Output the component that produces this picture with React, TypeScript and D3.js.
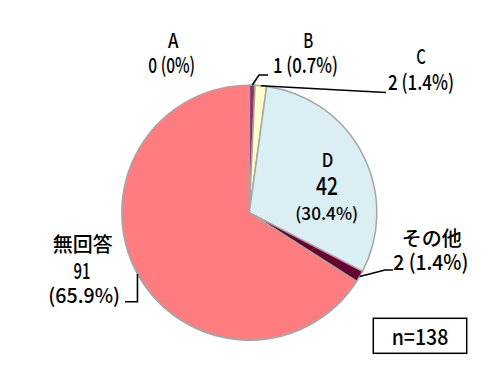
import React from 'react';
import * as d3 from 'd3';

const categories = ['A', 'B', 'C', 'D', 'その他', '無回答'];
const counts = [0, 1, 2, 42, 2, 91];
const percentLabels = ['0%', '0.7%', '1.4%', '30.4%', '1.4%', '65.9%'];
const sliceColors = ['#7F7F7F', '#993366', '#FFFFCC', '#DAEEF3', '#660033', '#FF7C80'];
const sampleLabel = 'n=138';

const W = 494;
const H = 386;
const cx = 249.3;
const cy = 212.7;
const R = 127.5;
const FONT = "'Noto Sans CJK JP', 'Noto Sans', sans-serif";

type T = { x: number; y: number; fs: number; w?: number };
type Layout = { lines: { text: (i: number) => string; t: T }[]; leader?: [number, number][] | 'vert' };

const layouts: Layout[] = [
  { lines: [
    { text: i => categories[i], t: { x: 173.3, y: 48.3, fs: 20, w: 10.5 } },
    { text: i => `${counts[i]} (${percentLabels[i]})`, t: { x: 171.7, y: 73, fs: 21, w: 46.7 } },
  ] },
  { lines: [
    { text: i => categories[i], t: { x: 308.3, y: 48.3, fs: 20, w: 10 } },
    { text: i => `${counts[i]} (${percentLabels[i]})`, t: { x: 305.5, y: 73, fs: 21, w: 65 } },
  ], leader: [[259, 75], [268, 75]] },
  { lines: [
    { text: i => categories[i], t: { x: 421, y: 64, fs: 20, w: 9.5 } },
    { text: i => `${counts[i]} (${percentLabels[i]})`, t: { x: 421, y: 89.5, fs: 21, w: 66 } },
  ], leader: [[386, 92.5]] },
  { lines: [
    { text: i => categories[i], t: { x: 327.5, y: 167, fs: 19, w: 11.6 } },
    { text: i => `${counts[i]}`, t: { x: 327, y: 195, fs: 25, w: 22 } },
    { text: i => `(${percentLabels[i]})`, t: { x: 326.7, y: 220, fs: 17, w: 63 } },
  ] },
  { lines: [
    { text: i => categories[i], t: { x: 431.7, y: 245.6, fs: 20 } },
    { text: i => `${counts[i]} (${percentLabels[i]})`, t: { x: 430.8, y: 269.5, fs: 21, w: 75 } },
  ], leader: [[385, 270], [393, 270]] },
  { lines: [
    { text: i => categories[i], t: { x: 82.7, y: 252, fs: 20 } },
    { text: i => `${counts[i]}`, t: { x: 82, y: 278.5, fs: 22, w: 17 } },
    { text: i => `(${percentLabels[i]})`, t: { x: 84.2, y: 302.5, fs: 20, w: 71.7 } },
  ], leader: 'vert' },
];

export default function App() {
  const pie = d3.pie<number>().sort(null).value(d => d);
  const arcs = pie(counts);
  const arcGen = d3.arc<d3.PieArcDatum<number>>().innerRadius(0).outerRadius(R);
  const edge = d3.arc<d3.PieArcDatum<number>>().innerRadius(R).outerRadius(R);

  return (
    <svg width={W} height={H} style={{ position: 'absolute', left: 0, top: 0, background: '#fff' }}>
      <g transform={`translate(${cx},${cy})`}>
        {arcs.map((a, i) => (
          <path key={i} d={arcGen(a) || ''} fill={sliceColors[i]} stroke="#A6A6A6" strokeWidth={1.5} strokeLinejoin="round" />
        ))}
      </g>
      {arcs.map((a, i) => {
        const L = layouts[i].leader;
        if (!L) return null;
        const [ex, ey] = edge.centroid(a);
        const sx = cx + ex;
        const sy = cy + ey;
        let pts: [number, number][];
        if (L === 'vert') pts = [[sx, sy], [sx, 301.7], [125, 301.7]];
        else pts = [[sx, sy], ...L];
        return <path key={'l' + i} d={d3.line()(pts) || ''} fill="none" stroke="#000" strokeWidth={1.6} />;
      })}
      {layouts.map((lay, i) =>
        lay.lines.map((ln, j) => (
          <text key={i + '-' + j} x={ln.t.x} y={ln.t.y} fontSize={ln.t.fs} fontFamily={FONT} fontWeight={500} textAnchor="middle" fill="#000"
            {...(ln.t.w ? { textLength: ln.t.w, lengthAdjust: 'spacingAndGlyphs' } : {})}>
            {ln.text(i)}
          </text>
        ))
      )}
      <rect x={373.3} y={318.3} width={93.4} height={35} fill="#fff" stroke="#000" strokeWidth={1.5} />
      <text x={420} y={345} fontSize={22} fontFamily={FONT} fontWeight={500} textAnchor="middle" textLength={56.7} lengthAdjust="spacingAndGlyphs">{sampleLabel}</text>
    </svg>
  );
}
